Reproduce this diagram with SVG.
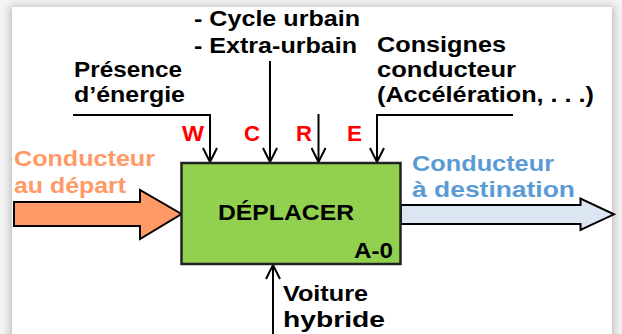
<svg xmlns="http://www.w3.org/2000/svg" width="622" height="334" viewBox="0 0 622 334">
<style>
.t{font-family:"Liberation Sans",Arial,sans-serif;font-weight:bold;font-size:22px;fill:#000}
.red{fill:#ff0000}
.org{fill:#ff9966}
.blu{fill:#5b9bd5}
.ln{fill:none;stroke:#000;stroke-width:2}
</style>
<defs>
<marker id="v" viewBox="0 0 16 16" refX="15" refY="8" markerWidth="16" markerHeight="16" markerUnits="userSpaceOnUse" orient="auto">
<path d="M1,1 L15,8 L1,15" fill="none" stroke="#000" stroke-width="2"/>
</marker>
<filter id="sh" x="-5%" y="-5%" width="110%" height="110%">
<feGaussianBlur stdDeviation="4"/>
</filter>
</defs>
<rect width="622" height="334" fill="#f4f4f4"/>
<rect x="10" y="6" width="604" height="340" fill="#bbbbbb" filter="url(#sh)"/>
<rect x="12" y="7" width="600" height="340" fill="#ffffff"/>

<g id="connectors">
<path class="ln" d="M73,115 H210 V162" marker-end="url(#v)"/>
<path class="ln" d="M270,61 V162" marker-end="url(#v)"/>
<path class="ln" d="M318.5,114 V162" marker-end="url(#v)"/>
<path class="ln" d="M513,115 H377 V162" marker-end="url(#v)"/>
<path class="ln" d="M273,334 V265" marker-end="url(#v)"/>
</g>

<g id="input-arrow">
<path d="M14,202 H140 V190 L181.5,214 L140,239 V226 H14 Z" fill="#ff9966" stroke="#000" stroke-width="2" stroke-linejoin="miter"/>
</g>
<g id="output-arrow">
<path d="M401,205 H580.5 V198.5 L614,214.3 L580.5,230 V224 H401 Z" fill="#dce6f2" stroke="#000" stroke-width="2"/>
</g>

<g id="node-deplacer">
<rect x="181.5" y="163" width="219" height="101" fill="#92d050" stroke="#222" stroke-width="2.5"/>
<text class="t" x="218" y="220" textLength="136" lengthAdjust="spacingAndGlyphs">DÉPLACER</text>
<text class="t" x="354" y="258" textLength="39" lengthAdjust="spacingAndGlyphs">A-0</text>
</g>

<g id="label-controls">
<text class="t" x="194" y="26" textLength="166" lengthAdjust="spacingAndGlyphs">- Cycle urbain</text>
<text class="t" x="194" y="53" textLength="163" lengthAdjust="spacingAndGlyphs">- Extra-urbain</text>
</g>
<g id="label-energie">
<text class="t" x="74" y="77" textLength="108" lengthAdjust="spacingAndGlyphs">Présence</text>
<text class="t" x="74" y="102" textLength="111" lengthAdjust="spacingAndGlyphs">d’énergie</text>
</g>
<g id="label-consignes">
<text class="t" x="377" y="52" textLength="129" lengthAdjust="spacingAndGlyphs">Consignes</text>
<text class="t" x="377" y="77" textLength="139" lengthAdjust="spacingAndGlyphs">conducteur</text>
<text class="t" x="377" y="102" textLength="217" lengthAdjust="spacingAndGlyphs">(Accélération, . . .)</text>
</g>
<g id="label-wcre">
<text class="t red" x="182" y="141" textLength="22" lengthAdjust="spacingAndGlyphs">W</text>
<text class="t red" x="244" y="141" textLength="16" lengthAdjust="spacingAndGlyphs">C</text>
<text class="t red" x="296" y="141" textLength="16" lengthAdjust="spacingAndGlyphs">R</text>
<text class="t red" x="347" y="141" textLength="15" lengthAdjust="spacingAndGlyphs">E</text>
</g>
<g id="label-input">
<text class="t org" x="14" y="166" textLength="141" lengthAdjust="spacingAndGlyphs">Conducteur</text>
<text class="t org" x="14" y="193" textLength="112" lengthAdjust="spacingAndGlyphs">au départ</text>
</g>
<g id="label-output">
<text class="t blu" x="412" y="171" textLength="142" lengthAdjust="spacingAndGlyphs">Conducteur</text>
<text class="t blu" x="412" y="197" textLength="163" lengthAdjust="spacingAndGlyphs">à destination</text>
</g>
<g id="label-mechanism">
<text class="t" x="283" y="301" textLength="85" lengthAdjust="spacingAndGlyphs">Voiture</text>
<text class="t" x="283" y="327" textLength="102" lengthAdjust="spacingAndGlyphs">hybride</text>
</g>
</svg>
